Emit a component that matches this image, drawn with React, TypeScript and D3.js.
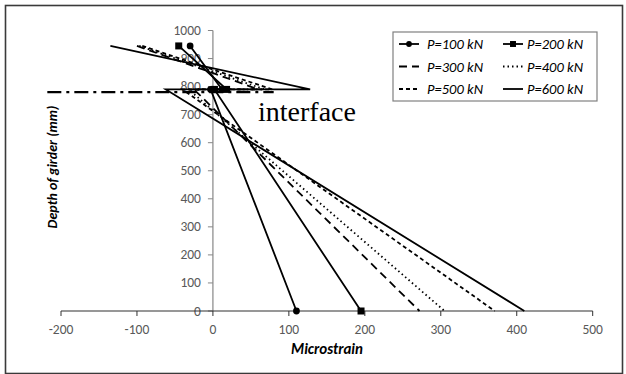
import React from "react";
import * as d3 from "d3";

const depths = [945, 790, 790, 0];
const p100 = [-30, 12, -3, 110];
const p200 = [-45, 18, 2, 195];
const p300 = [-100, 60, -25, 272];
const p400 = [-97, 68, -32, 305];
const p500 = [-93, 78, -40, 371];
const p600 = [-135, 128, -62, 410];
const seriesNames = ["P=100 kN", "P=200 kN", "P=300 kN", "P=400 kN", "P=500 kN", "P=600 kN"];
const interfaceX = [-218, 80];
const interfaceDepth = 780;
const xTicks = [-200, -100, 0, 100, 200, 300, 400, 500];
const yTicks = [0, 100, 200, 300, 400, 500, 600, 700, 800, 900, 1000];

const styles = [
  { dash: "none", marker: "circle" },
  { dash: "none", marker: "square" },
  { dash: "8,5", marker: null },
  { dash: "1.5,3", marker: null },
  { dash: "4,3", marker: null },
  { dash: "none", marker: null },
];

export default function App() {
  const x = d3.scaleLinear().domain([-200, 500]).range([61, 592.7]);
  const y = d3.scaleLinear().domain([0, 1000]).range([311, 30.5]);
  const allSeries = [p100, p200, p300, p400, p500, p600];
  const line = d3
    .line<[number, number]>()
    .x((d) => x(d[0]))
    .y((d) => y(d[1]));
  const font = "Carlito, Lato, 'Open Sans', sans-serif";

  const legendRows = [44, 66.5, 89];
  const legendCols = [{ lx: 399, tx: 427 }, { lx: 503, tx: 527 }];

  const drawMarker = (kind: string | null, cx: number, cy: number, key: string, size = 1) => {
    if (kind === "circle") return <circle key={key} cx={cx} cy={cy} r={3.4 * size} fill="#000" />;
    if (kind === "square")
      return <rect key={key} x={cx - 3.5 * size} y={cy - 3.5 * size} width={7 * size} height={7 * size} fill="#000" />;
    return null;
  };

  return (
    <svg
      width={626}
      height={374}
      style={{ position: "absolute", left: 0, top: 0, background: "#fff" }}
      fontFamily={font}
    >
      <rect x={0} y={0} width={626} height={374} fill="#fff" />
      <rect x={5.5} y={5.5} width={617} height={368} fill="none" stroke="#3a3a3a" strokeWidth={1.6} />

      {/* y axis */}
      <line x1={x(0)} x2={x(0)} y1={y(0)} y2={y(1000)} stroke="#868686" strokeWidth={1.2} />
      {yTicks.map((t) => (
        <g key={"yt" + t}>
          <line x1={x(0) - 5} x2={x(0)} y1={y(t)} y2={y(t)} stroke="#868686" strokeWidth={1} />
          <text x={x(0) - 12} y={y(t) + 4.5} textAnchor="end" fontSize={13.5} fill="#595959">
            {t}
          </text>
        </g>
      ))}

      {/* x axis */}
      <line x1={x(-200)} x2={x(500)} y1={y(0)} y2={y(0)} stroke="#303030" strokeWidth={1.2} />
      {xTicks.map((t) => (
        <g key={"xt" + t}>
          <line x1={x(t)} x2={x(t)} y1={y(0)} y2={y(0) + 5} stroke="#303030" strokeWidth={1} />
          <text x={x(t)} y={y(0) + 23} textAnchor="middle" fontSize={13.5} fill="#595959">
            {t}
          </text>
        </g>
      ))}

      {/* interface line */}
      <line
        x1={x(interfaceX[0])}
        x2={x(interfaceX[1])}
        y1={y(interfaceDepth)}
        y2={y(interfaceDepth)}
        stroke="#000"
        strokeWidth={2.2}
        strokeDasharray="14,5,3,5"
      />

      {/* series */}
      {allSeries.map((s, i) => {
        const pts = s.map((v, j) => [v, depths[j]] as [number, number]);
        return (
          <g key={"s" + i}>
            <path d={line(pts) || ""} fill="none" stroke="#000" strokeWidth={1.8} strokeDasharray={styles[i].dash} />
            {pts.map((p, j) => drawMarker(styles[i].marker, x(p[0]), y(p[1]), `m${i}-${j}`))}
          </g>
        );
      })}

      <text x={258} y={121} fontFamily="'Liberation Serif', 'Times New Roman', serif" fontSize={28} fill="#000">
        interface
      </text>

      {/* legend */}
      <rect x={393} y={32} width={204} height={69} fill="#fff" stroke="#808080" strokeWidth={1.2} />
      {seriesNames.map((name, i) => {
        const row = Math.floor(i / 2);
        const col = legendCols[i % 2];
        const ly = legendRows[row];
        return (
          <g key={"lg" + i}>
            <line x1={col.lx} x2={col.lx + 20} y1={ly} y2={ly} stroke="#000" strokeWidth={1.8} strokeDasharray={styles[i].dash} />
            {drawMarker(styles[i].marker, col.lx + 10, ly, "lm" + i, 0.85)}
            <text x={col.tx} y={ly + 5} fontSize={14.5} fontStyle="italic" fill="#000">
              {name}
            </text>
          </g>
        );
      })}

      {/* axis titles */}
      <text x={327} y={354} textAnchor="middle" fontSize={15} fontWeight="bold" fontStyle="italic" fill="#000">
        Microstrain
      </text>
      <text
        transform={`translate(57,167) rotate(-90)`}
        textAnchor="middle"
        fontSize={14}
        fontWeight="bold"
        fontStyle="italic"
        fill="#000"
      >
        Depth of girder (mm)
      </text>
    </svg>
  );
}
